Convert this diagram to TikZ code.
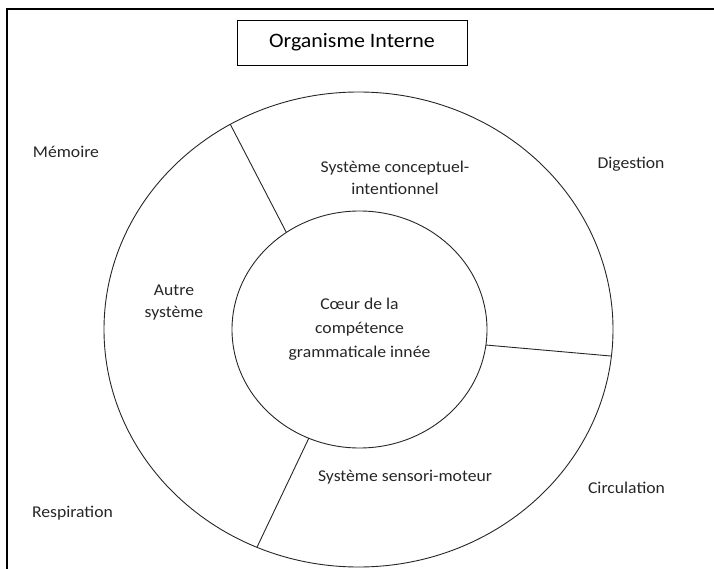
\documentclass[tikz,border=0pt]{standalone}
\usepackage{fontspec}
\setmainfont{Carlito}[FakeStretch=1.07]
\usetikzlibrary{shapes.geometric}
\tikzset{
	anneau/.style={draw=black!85, line width=0.9pt, ellipse, inner sep=0pt, outer sep=0pt},
	etiquette/.style={font=\fontsize{16.5}{22}\selectfont, text=black!85, align=center, inner sep=0pt},
	cloison/.style={draw=black!85, line width=0.9pt},
}
\begin{document}
\begin{tikzpicture}[x=1pt, y=-1pt]
	\useasboundingbox (0,0) rectangle (714,569);
	% Cadre
		\draw[line width=2.5pt] (714,9) -- (7,9) -- (7,569);
	% Titre
		\node[draw, line width=0.8pt, minimum width=230pt, minimum height=45pt, font=\fontsize{20.5}{24}\selectfont] (titre) at (352,42.5) {Organisme Interne};
	% Anneaux
		\node[anneau, minimum width=509pt, minimum height=475pt] (externe) at (358.5,329.5) {};
		\node[anneau, etiquette, font=\fontsize{16.5}{24}\selectfont, minimum width=255pt, minimum height=237pt] (coeur) at (359.5,329.5) {Cœur de la\\compétence\\grammaticale innée};
	% Cloisons
		\draw[cloison] (coeur.127.5) -- (externe.122.4);
		\draw[cloison] (coeur.-7.8) -- (externe.-6);
		\draw[cloison] (coeur.245.2) -- (externe.245.2);
	% Systemes
		\node[etiquette] (conceptuel) at (395,178) {Système conceptuel-\\intentionnel};
		\node[etiquette] (autre) at (174,303) {Autre\\système};
		\node[etiquette] (sensori) at (405,477) {Système sensori-moteur};
	% Organes
		\node[etiquette] (memoire) at (66,152) {Mémoire};
		\node[etiquette] (digestion) at (631,164) {Digestion};
		\node[etiquette] (circulation) at (626.5,488) {Circulation};
		\node[etiquette] (respiration) at (72.5,513) {Respiration};
\end{tikzpicture}
\end{document}
